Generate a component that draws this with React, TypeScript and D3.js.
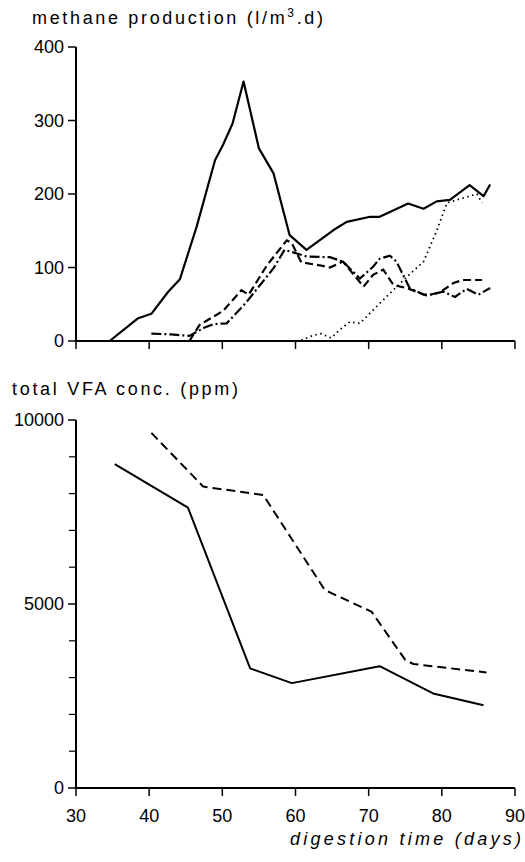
import React from 'react';
import * as d3 from 'd3';

// ---- data ----
const xTicks = [30, 40, 50, 60, 70, 80, 90];
const methaneTicks = [0, 100, 200, 300, 400];
const vfaMajorTicks = [0, 5000, 10000];
const vfaMinorTicks = [1000, 2000, 3000, 4000, 6000, 7000, 8000, 9000];

// methane production (l/m3.d)
const methaneSolid: [number, number][] = [
  [33, 0], [34.6, 0], [36.5, 15], [38.5, 31], [40.3, 37], [42.6, 67], [44.2, 84],
  [46.5, 156], [49.0, 246], [50.1, 267], [51.4, 296], [52.9, 353], [55.0, 262],
  [57.0, 228], [59.2, 144], [61.5, 124], [65.2, 151], [67.0, 162], [70.2, 169],
  [71.5, 169], [75.4, 187], [77.5, 180], [79.3, 190], [81.1, 192], [83.8, 212],
  [85.7, 197], [86.6, 213],
];
const methaneDashed: [number, number][] = [
  [45.5, 0], [46.9, 22], [50.1, 41], [52.6, 69], [53.6, 63], [56.1, 103],
  [58.8, 137], [59.5, 133], [60.8, 107], [63.3, 103], [64.7, 100], [66.5, 108],
  [69.3, 74], [70.6, 90], [72.0, 97], [73.4, 76], [75.2, 72], [77.9, 62],
  [79.7, 66], [81.6, 79], [82.9, 83], [85.5, 83],
];
const methaneDashDot: [number, number][] = [
  [40.3, 10], [43.0, 9], [45.5, 7], [47.5, 18], [48.8, 23], [50.6, 24],
  [53.3, 53], [57.0, 99], [58.5, 124], [60.2, 119], [61.5, 115], [64.7, 114],
  [66.5, 108], [68.8, 85], [70.6, 101], [71.5, 112], [72.9, 116], [73.8, 108],
  [74.5, 94], [75.6, 72], [77.5, 63], [78.4, 63], [80.2, 67], [81.8, 60],
  [83.4, 71], [85.0, 63], [86.6, 72],
];
const methaneDotted: [number, number][] = [
  [60.8, 1], [62.5, 8], [63.5, 10], [64.9, 4], [66.0, 15], [67.4, 26],
  [68.8, 24], [71.5, 51], [75.2, 87], [77.5, 108], [79.3, 150], [80.7, 188],
  [83.4, 196], [84.8, 200], [85.5, 188],
];

// total VFA conc. (ppm)
const vfaSolid: [number, number][] = [
  [35.3, 8800], [45.3, 7620], [53.8, 3250], [59.5, 2850], [71.5, 3310],
  [78.8, 2570], [85.7, 2250],
];
const vfaDashed: [number, number][] = [
  [40.3, 9650], [47.4, 8190], [55.6, 7960], [64.0, 5380], [70.4, 4790],
  [75.0, 3480], [76.1, 3370], [86.1, 3140],
];

const FONT = '"Liberation Sans", Arial, sans-serif';

export default function App() {
  const x = d3.scaleLinear().domain([30, 90]).range([76, 515]);
  const yTop = d3.scaleLinear().domain([0, 400]).range([341, 47]);
  const yBot = d3.scaleLinear().domain([0, 10000]).range([788, 420]);

  const lineTop = d3.line<[number, number]>().x(d => x(d[0])).y(d => yTop(d[1]));
  const lineBot = d3.line<[number, number]>().x(d => x(d[0])).y(d => yBot(d[1]));

  const axisW = 2;
  const tickLen = 8;

  const xAxis = (y0: number, key: string) => (
    <g key={key}>
      <line x1={x(30)} x2={x(90)} y1={y0} y2={y0} stroke="#000" strokeWidth={axisW} />
      {xTicks.map(t => (
        <line key={t} x1={x(t)} x2={x(t)} y1={y0} y2={y0 + tickLen} stroke="#000" strokeWidth={1.5} />
      ))}
    </g>
  );

  return (
    <svg width={525} height={862} style={{ position: 'absolute', left: 0, top: 0, background: '#fff' }}
      fontFamily={FONT}>
      <rect width={525} height={862} fill="#fff" />

      {/* ---------- top chart ---------- */}
      <text x={32} y={24} fontSize={18} textLength={291} lengthAdjust="spacing">
        methane production (l/m<tspan fontSize={12} dy={-7}>3</tspan><tspan dy={7}>.d)</tspan>
      </text>
      <line x1={x(30)} x2={x(30)} y1={yTop(400)} y2={yTop(0)} stroke="#000" strokeWidth={axisW} />
      {methaneTicks.map(t => (
        <g key={t}>
          <line x1={x(30) - tickLen} x2={x(30)} y1={yTop(t)} y2={yTop(t)} stroke="#000" strokeWidth={1.5} />
          <text x={x(30) - 12} y={yTop(t)} dy="0.36em" textAnchor="end" fontSize={18}>{t}</text>
        </g>
      ))}
      {xAxis(yTop(0), 'top')}

      <path d={lineTop(methaneSolid) ?? ''} fill="none" stroke="#000" strokeWidth={2.2} strokeLinejoin="round" />
      <path d={lineTop(methaneDashed) ?? ''} fill="none" stroke="#000" strokeWidth={2.2} strokeDasharray="8 4" />
      <path d={lineTop(methaneDashDot) ?? ''} fill="none" stroke="#000" strokeWidth={2.2} strokeDasharray="10 3 2 3" />
      <path d={lineTop(methaneDotted) ?? ''} fill="none" stroke="#000" strokeWidth={1.8} strokeDasharray="1.5 3.5" />

      {/* ---------- bottom chart ---------- */}
      <text x={12} y={395} fontSize={18} textLength={226} lengthAdjust="spacing">total VFA conc. (ppm)</text>
      <line x1={x(30)} x2={x(30)} y1={yBot(10000)} y2={yBot(0)} stroke="#000" strokeWidth={axisW} />
      {vfaMinorTicks.map(t => (
        <line key={t} x1={x(30) - 7} x2={x(30)} y1={yBot(t)} y2={yBot(t)} stroke="#000" strokeWidth={1.2} />
      ))}
      {vfaMajorTicks.map(t => (
        <g key={t}>
          <line x1={x(30) - tickLen} x2={x(30)} y1={yBot(t)} y2={yBot(t)} stroke="#000" strokeWidth={1.5} />
          <text x={x(30) - 12} y={yBot(t)} dy="0.36em" textAnchor="end" fontSize={18}>{t}</text>
        </g>
      ))}
      {xAxis(yBot(0), 'bot')}
      {xTicks.map(t => (
        <text key={t} x={x(t)} y={822} textAnchor="middle" fontSize={18}>{t}</text>
      ))}
      <text x={290} y={845} fontSize={18} fontStyle="italic" textLength={231} lengthAdjust="spacing">digestion time  (days)</text>

      <path d={lineBot(vfaSolid) ?? ''} fill="none" stroke="#000" strokeWidth={2} strokeLinejoin="round" />
      <path d={lineBot(vfaDashed) ?? ''} fill="none" stroke="#000" strokeWidth={2} strokeDasharray="9 5" />
    </svg>
  );
}
